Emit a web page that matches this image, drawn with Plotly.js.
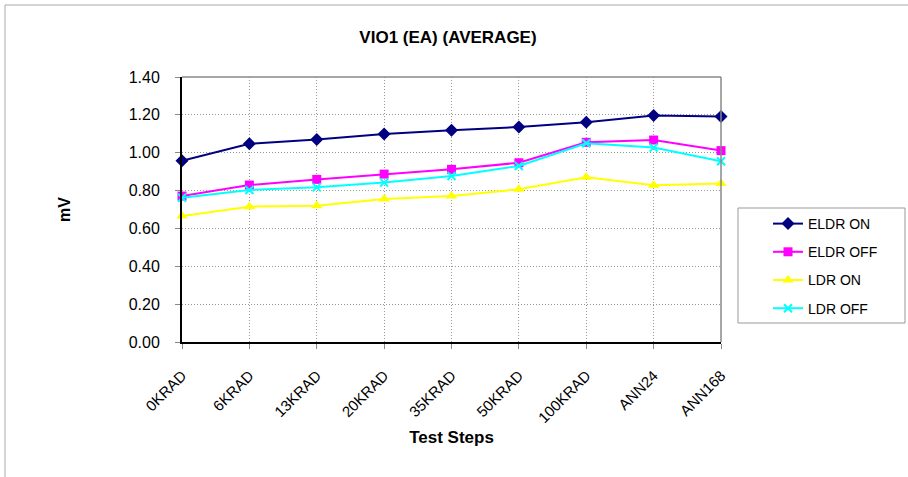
<!DOCTYPE html>
<html>
<head>
<meta charset="utf-8">
<script src="https://cdn.plot.ly/plotly-3.0.1.min.js"></script>
<style>html,body{margin:0;padding:0;background:#fff;}#chart{width:908px;height:477px;}</style>
</head>
<body>
<div id="chart"></div>
<script>
const categories = ["0KRAD","6KRAD","13KRAD","20KRAD","35KRAD","50KRAD","100KRAD","ANN24","ANN168"];
const eldrOn  = [0.957, 1.047, 1.070, 1.099, 1.119, 1.136, 1.161, 1.196, 1.191];
const eldrOff = [0.771, 0.829, 0.859, 0.887, 0.912, 0.947, 1.055, 1.067, 1.011];
const ldrOn   = [0.666, 0.715, 0.720, 0.755, 0.771, 0.807, 0.870, 0.828, 0.838];
const ldrOff  = [0.762, 0.803, 0.817, 0.842, 0.877, 0.930, 1.050, 1.027, 0.955];
const seriesNames = ["ELDR ON","ELDR OFF","LDR ON","LDR OFF"];

const W = 908, H = 477;
const L = 182, R = 721, T = 77, B = 342;
const px = x => (x - L) / (R - L);
const py = y => (B - y) / (B - T);
const font = "Arial, 'Liberation Sans', sans-serif";

function tr(name, y, color, symbol, size, mline) {
  return {
    x: categories, y: y, name: name, type: 'scatter', mode: 'lines+markers',
    legendgroup: name,
    line: {color: color, width: 2},
    marker: {symbol: symbol, size: size, color: color, line: mline || {width: 0}},
    cliponaxis: false
  };
}
const data = [
  tr(seriesNames[0], eldrOn, '#000080', 'diamond', 10),
  tr(seriesNames[1], eldrOff, '#FF00FF', 'square', 9),
  tr(seriesNames[2], ldrOn, '#FFFF00', 'triangle-up', 10),
  tr(seriesNames[3], ldrOff, '#00FFFF', 'x-thin-open', 8, {color: '#00FFFF', width: 2})
];

const layout = {
  width: W, height: H,
  margin: {l: L, r: W - R, t: T, b: H - B, pad: 0},
  paper_bgcolor: '#fff', plot_bgcolor: '#fff',
  font: {family: font, size: 14, color: '#000'},
  title: {text: '<b>VIO1 (EA) (AVERAGE)</b>', font: {family: font, size: 17, color: '#000'},
          x: px(448), xref: 'paper', xanchor: 'center', y: 1 - 37 / H, yref: 'container', yanchor: 'middle'},
  xaxis: {
    type: 'category', range: [0, 8], showgrid: true, gridcolor: '#999', griddash: '1px,2px', gridwidth: 1,
    ticks: 'outside', ticklen: 5, tickcolor: '#888', tickangle: -45, ticklabelstandoff: 12,
    tickfont: {family: font, size: 15, color: '#000'},
    showline: true, linecolor: '#000', linewidth: 2, zeroline: false,
    title: {text: '<b>Test Steps</b>', font: {family: font, size: 17, color: '#000'}, standoff: 6}
  },
  yaxis: {
    range: [0, 1.4], dtick: 0.2, tick0: 0, tickformat: '.2f',
    showgrid: true, gridcolor: '#999', griddash: '1px,2px', gridwidth: 1,
    ticks: 'outside', ticklen: 5, tickcolor: '#888', ticklabelstandoff: 12,
    tickfont: {family: font, size: 16, color: '#000'},
    showline: true, linecolor: '#000', linewidth: 2, zeroline: false,
    title: {text: '<b>mV</b>', font: {family: font, size: 16, color: '#000'}, standoff: 54}
  },
  legend: {
    x: px(768), xanchor: 'left', y: py(208), yanchor: 'top',
    bgcolor: 'rgba(0,0,0,0)', borderwidth: 0,
    font: {family: font, size: 14, color: '#000'},
    tracegroupgap: 7, traceorder: 'grouped'
  },
  shapes: [
    {type: 'rect', xref: 'paper', yref: 'paper', x0: px(738), x1: px(905), y0: py(208), y1: py(323), line: {color: '#999', width: 1}, fillcolor: '#fff', layer: 'below'},
    {type: 'line', xref: 'paper', yref: 'paper', x0: 0, x1: 1, y0: 1, y1: 1, line: {color: '#888', width: 1.5}},
    {type: 'line', xref: 'paper', yref: 'paper', x0: 1, x1: 1, y0: 0, y1: 1, line: {color: '#888', width: 1.5}},
    {type: 'line', xref: 'paper', yref: 'paper', x0: px(5), x1: px(5), y0: py(5), y1: py(477), line: {color: '#aaa', width: 1}},
    {type: 'line', xref: 'paper', yref: 'paper', x0: px(5), x1: px(908), y0: py(5), y1: py(5), line: {color: '#aaa', width: 1}}
  ]
};

Plotly.newPlot('chart', data, layout, {displayModeBar: false, staticPlot: true});
</script>
</body>
</html>
